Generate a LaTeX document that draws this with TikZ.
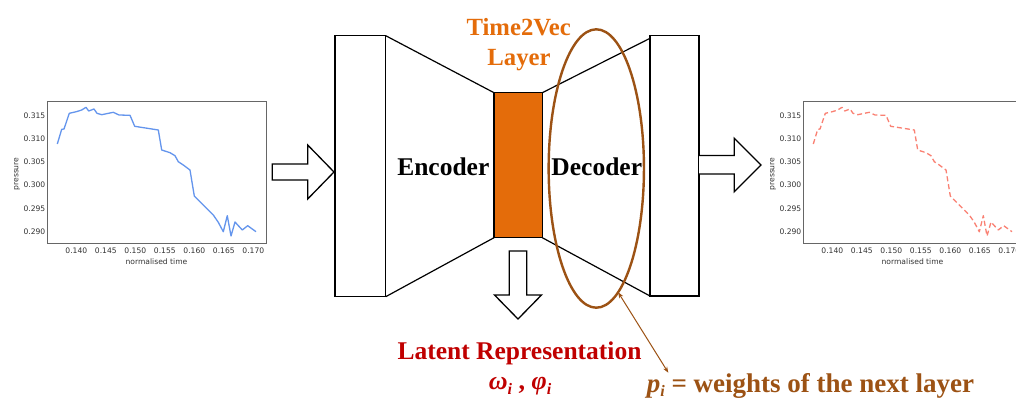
\documentclass[tikz,border=0pt]{standalone}
\usepackage{fontspec}
\setmainfont{Liberation Serif}
\newfontfamily\plotfont{DejaVu Sans}
\usetikzlibrary{shapes.geometric,arrows.meta}

\definecolor{t2vorange}{RGB}{228,108,10}
\definecolor{ringbrown}{RGB}{156,82,20}
\definecolor{latentred}{RGB}{192,0,0}
\definecolor{truecurve}{RGB}{100,149,237}
\definecolor{reconcurve}{RGB}{250,128,114}

% bold italic symbol with a lowered italic index
\newcommand\symsub[2]{{\bfseries\itshape #1\raisebox{-0.18em}{\fontsize{16}{20}\selectfont\bfseries\itshape #2}}}

\tikzset{
  box/.style={draw=black, line width=1.3pt, fill=white, inner sep=0pt, outer sep=0pt},
  edge/.style={draw=black, line width=1.2pt},
  blockarrow/.style={draw=black, fill=white, line width=1.3pt, line join=miter},
  bigbold/.style={font=\fontsize{25.5}{30}\selectfont\bfseries, inner sep=0pt},
  axisframe/.style={draw=black!60, line width=0.9pt},
  ticklabel/.style={font=\plotfont\fontsize{7.6}{9}\selectfont, text=black!80, inner sep=0pt},
  truestyle/.style={draw=truecurve, line width=1.3pt, line join=round},
  reconstyle/.style={draw=reconcurve, line width=1.3pt, dash pattern=on 5pt off 3pt, line join=round},
}

% pressure against normalised time; #1 name prefix, #2 horizontal offset, #3 curve style
\newcommand\pressureplot[3]{%
  \begin{scope}[shift={(#2,0)}]
    \draw[axisframe] (47.7,101) rectangle (266,243);
    \foreach \v [count=\k] in {0.315,0.310,0.305,0.300,0.295,0.290}
      \node[ticklabel, anchor=east] (#1y\k) at (45.5,{115.3+23.27*(\k-1)}) {\v};
    \foreach \v [count=\k] in {0.140,0.145,0.150,0.155,0.160,0.165,0.170}
      \node[ticklabel] (#1x\k) at ({76.3+29.5*(\k-1)},251) {\v};
    \node[ticklabel] (#1xlabel) at (156.5,261.3) {normalised time};
    \node[ticklabel, rotate=90] (#1ylabel) at (17,174) {pressure};
    \draw[#3] plot coordinates {
      (57.3,144.0) (61.7,129.3) (64.0,129.0) (69.3,113.3) (76.3,111.7)
      (81.7,110.0) (86.0,107.3) (88.7,111.0) (94.0,109.0) (97.0,113.3)
      (101.7,114.7) (113.3,112.3) (119.0,115.0) (130.0,115.3) (134.7,126.3)
      (158.3,130.0) (161.7,150.0) (170.0,152.7) (175.0,155.7) (178.3,161.7)
      (183.3,165.0) (190.0,170.0) (194.3,196.0) (203.3,205.0) (208.3,210.0)
      (213.3,215.0) (218.3,222.3) (223.3,231.7) (227.3,215.7) (231.0,236.0)
      (235.0,222.0) (242.3,230.0) (247.7,225.7) (256.0,231.7)};
  \end{scope}}

\begin{document}
\begin{tikzpicture}[x=1pt, y=-1pt]
  \clip (0,0) rectangle (1016,399);
  \fill[white] (0,0) rectangle (1016,399);

  % input and reconstructed series
  \pressureplot{in}{0}{truestyle}
  \pressureplot{out}{756}{reconstyle}

  % autoencoder body
  \node[box, minimum width=50.7pt, minimum height=261pt, anchor=north west] (enc) at (335,35.7) {};
  \node[box, minimum width=49pt, minimum height=260.3pt, anchor=north west] (dec) at (650,35.7) {};
  \node[box, fill=t2vorange, minimum width=48.3pt, minimum height=145pt, anchor=north west] (t2v) at (494,92.7) {};

  \draw[edge] (enc.north east) -- (t2v.north west);
  \draw[edge] (enc.south east) -- (t2v.south west);
  \draw[edge] (t2v.north east) -- ([yshift=-2.6pt]dec.north west);
  \draw[edge] (t2v.south east) -- (dec.south west);

  % block arrows
  \draw[blockarrow] (272.3,164) -- (307.7,164) -- (307.7,145) -- (334,172)
    -- (307.7,199) -- (307.7,180) -- (272.3,180) -- cycle;
  \draw[blockarrow] (699,155.5) -- (734.3,155.5) -- (734.3,138.3) -- (761,165)
    -- (734.3,191.7) -- (734.3,174) -- (699,174);
  \draw[blockarrow] (509.3,251) -- (526.7,251) -- (526.7,295) -- (541.5,295)
    -- (518,319) -- (494.5,295) -- (509.3,295) -- cycle;

  % labels
  \node[bigbold, anchor=base] (enclabel) at (443.3,175) {Encoder};
  \node[bigbold, anchor=base] (declabel) at (596.8,175) {Decoder};
  \node[bigbold, anchor=base, text=t2vorange, font=\fontsize{24.7}{30}\selectfont\bfseries] (t2vlabel) at (518.7,35.7) {Time2Vec};
  \node[bigbold, anchor=base, text=t2vorange, font=\fontsize{24.7}{30}\selectfont\bfseries] (layerlabel) at (519,65.7) {Layer};

  \node[bigbold, anchor=base, text=latentred] (latent) at (519.5,359) {Latent Representation};
  \node[bigbold, anchor=base, text=latentred, font=\fontsize{26}{30}\selectfont\bfseries] (latentsym) at (520,389.5)
    {\symsub{ω}{i} , \symsub{φ}{i}};

  \node[anchor=base west, inner sep=0pt, text=ringbrown, font=\fontsize{27}{32}\selectfont\bfseries] (pnote) at (646.7,392)
    {\symsub{p}{i} = weights of the next layer};

  % decoder weights highlight
  \node[draw=ringbrown, line width=2.4pt, ellipse, minimum width=95.3pt, minimum height=278.4pt,
        inner sep=0pt, outer sep=0pt] (focus) at (596.3,168.5) {};
  \coordinate (pend) at (668.3,372.7);
  \draw[ringbrown, line width=1pt, {Stealth[length=6pt,width=4.5pt]}-{Stealth[length=6pt,width=4.5pt]}]
    (focus.-80) -- (pend);
\end{tikzpicture}
\end{document}
